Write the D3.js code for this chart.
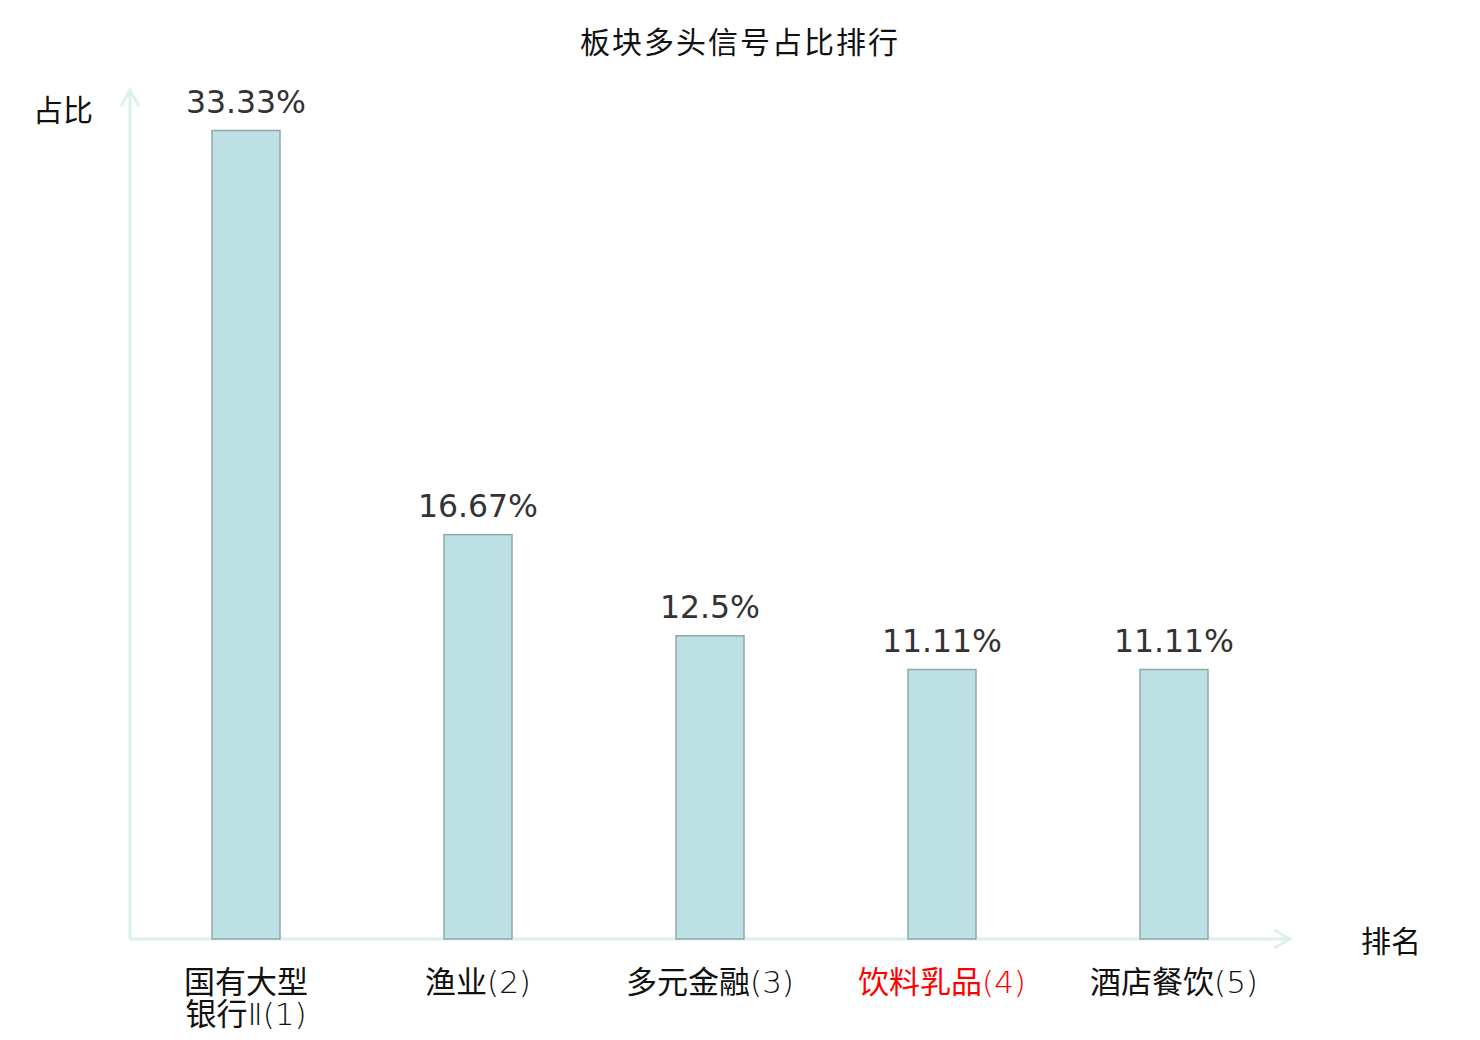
<!DOCTYPE html>
<html>
<head>
<meta charset="utf-8">
<script src="https://cdn.jsdelivr.net/npm/d3@7"></script>
<style>
  body { margin: 0; background: #fff; }
  svg text { font-family: "DejaVu Sans", "Noto Sans CJK SC", sans-serif; }
</style>
</head>
<body>
<svg id="chart" width="1480" height="1040"></svg>
<script>
const title = '板块多头信号占比排行'
const categories = ['国有大型\n银行Ⅱ(1)', '渔业(2)', '多元金融(3)', '饮料乳品(4)', '酒店餐饮(5)']
const values = [33.33, 16.67, 12.5, 11.11, 11.11]
const valueLabels = ['33.33%', '16.67%', '12.5%', '11.11%', '11.11%']
const highlighted = ['饮料乳品(4)']

const axisColor = '#dcf1ee'
const margin = {left: 130, right: 190, top: 90, bottom: 101}
const width = 1480, height = 1040
const cjk = '"Noto Sans CJK SC", sans-serif'

const svg = d3.select('#chart')

const x = d3.scaleBand()
  .domain(categories)
  .range([margin.left, width - margin.right])
  .padding(0)

const y = d3.scaleLinear()
  .domain([0, 35])
  .range([height - margin.bottom, margin.top])

const barW = 68

svg.append('text')
  .attr('x', 740).attr('y', 53)
  .attr('text-anchor', 'middle')
  .attr('font-size', 30)
  .attr('letter-spacing', 2)
  .style('font-family', cjk)
  .attr('fill', '#111')
  .text(title)

// axes
const y0 = y(0)
const ax = svg.append('g').attr('stroke', axisColor).attr('stroke-width', 3).attr('fill', 'none')
ax.append('line').attr('x1', margin.left).attr('x2', width - margin.right).attr('y1', y0).attr('y2', y0)
ax.append('line').attr('x1', margin.left).attr('x2', margin.left).attr('y1', y0).attr('y2', margin.top)
ax.append('path')
  .attr('d', `M${width - margin.right - 16},${y0 - 9}L${width - margin.right},${y0}L${width - margin.right - 16},${y0 + 9}`)
ax.append('path')
  .attr('d', `M${margin.left - 9},${margin.top + 16}L${margin.left},${margin.top}L${margin.left + 9},${margin.top + 16}`)

svg.append('text')
  .attr('x', 63).attr('y', 121)
  .attr('text-anchor', 'middle')
  .attr('font-size', 30)
  .style('font-family', cjk)
  .attr('fill', '#111')
  .text('占比')

svg.append('text')
  .attr('x', 1391).attr('y', 952)
  .attr('text-anchor', 'middle')
  .attr('font-size', 30)
  .style('font-family', cjk)
  .attr('fill', '#111')
  .text('排名')

// bars
svg.append('g')
  .selectAll('rect')
  .data(values)
  .join('rect')
  .attr('x', (d, i) => x(categories[i]) + x.bandwidth() / 2 - barW / 2)
  .attr('y', d => y(d))
  .attr('width', barW)
  .attr('height', d => y0 - y(d))
  .attr('fill', '#bce0e3')
  .attr('stroke', '#8ea8a8')
  .attr('stroke-width', 1.5)

svg.append('g')
  .selectAll('text')
  .data(values)
  .join('text')
  .attr('x', (d, i) => x(categories[i]) + x.bandwidth() / 2)
  .attr('y', d => y(d) - 18)
  .attr('text-anchor', 'middle')
  .attr('font-size', 31.5)
  .attr('fill', '#333')
  .text((d, i) => valueLabels[i])

// category labels: CJK in Noto, ascii in thin DejaVu
const thin = /^[\x00-\x7FⅡ]+$/
const cl = svg.append('g')
  .selectAll('text')
  .data(categories)
  .join('text')
  .attr('text-anchor', 'middle')
  .attr('font-size', 31)
  .attr('fill', d => highlighted.includes(d) ? '#ff0000' : '#111')
cl.each(function (d) {
  const cx = x(d) + x.bandwidth() / 2
  const lines = d.split('\n')
  const t = d3.select(this)
  lines.forEach((line, j) => {
    const line_el = t.append('tspan')
      .attr('x', cx)
      .attr('y', y0 + 54 + j * 32)
    line.match(/[\x00-\x7FⅡ]+|[^\x00-\x7FⅡ]+/g).forEach(part => {
      const a = thin.test(part)
      line_el.append('tspan')
        .style('font-family', a ? '"DejaVu Sans", sans-serif' : cjk)
        .attr('font-weight', a ? 200 : 400)
        .text(part)
    })
  })
})
</script>
</body>
</html>
